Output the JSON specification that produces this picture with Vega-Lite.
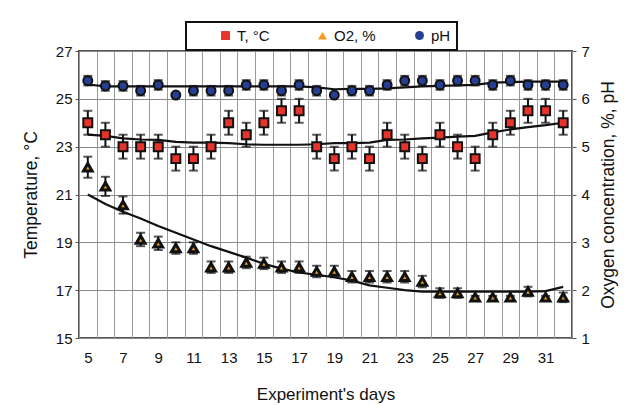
{
  "$schema": "https://vega.github.io/schema/vega-lite/v6.json",
  "width": 493,
  "height": 287,
  "autosize": {"type": "none"},
  "padding": {"left": 79, "top": 51, "right": 52, "bottom": 67},
  "background": "white",
  "config": {
    "font": "Liberation Sans",
    "view": {"stroke": "#555", "strokeWidth": 2},
    "axis": {"labelFont": "Liberation Sans", "titleFont": "Liberation Sans", "labelFontSize": 15, "titleFontSize": 17.5, "labelColor": "#111", "titleColor": "#111", "titleFontWeight": "normal", "domain": false, "tickColor": "#555"},
    "legend": {"strokeWidth": 2}
  },
  "data": {"values": [
    {"day":5,"series":"T, °C","value":24,"err":0.5,"fit":23.5},
    {"day":6,"series":"T, °C","value":23.5,"err":0.5,"fit":23.45},
    {"day":7,"series":"T, °C","value":23,"err":0.5,"fit":23.35},
    {"day":8,"series":"T, °C","value":23,"err":0.5,"fit":23.3},
    {"day":9,"series":"T, °C","value":23,"err":0.5,"fit":23.28},
    {"day":10,"series":"T, °C","value":22.5,"err":0.5,"fit":23.2},
    {"day":11,"series":"T, °C","value":22.5,"err":0.5,"fit":23.17},
    {"day":12,"series":"T, °C","value":23,"err":0.5,"fit":23.17},
    {"day":13,"series":"T, °C","value":24,"err":0.5,"fit":23.15},
    {"day":14,"series":"T, °C","value":23.5,"err":0.5,"fit":23.1},
    {"day":15,"series":"T, °C","value":24,"err":0.5,"fit":23.08},
    {"day":16,"series":"T, °C","value":24.5,"err":0.5,"fit":23.08},
    {"day":17,"series":"T, °C","value":24.5,"err":0.5,"fit":23.08},
    {"day":18,"series":"T, °C","value":23,"err":0.5,"fit":23.1},
    {"day":19,"series":"T, °C","value":22.5,"err":0.5,"fit":23.15},
    {"day":20,"series":"T, °C","value":23,"err":0.5,"fit":23.15},
    {"day":21,"series":"T, °C","value":22.5,"err":0.5,"fit":23.17},
    {"day":22,"series":"T, °C","value":23.5,"err":0.5,"fit":23.28},
    {"day":23,"series":"T, °C","value":23,"err":0.5,"fit":23.3},
    {"day":24,"series":"T, °C","value":22.5,"err":0.5,"fit":23.35},
    {"day":25,"series":"T, °C","value":23.5,"err":0.5,"fit":23.38},
    {"day":26,"series":"T, °C","value":23,"err":0.5,"fit":23.42},
    {"day":27,"series":"T, °C","value":22.5,"err":0.5,"fit":23.45},
    {"day":28,"series":"T, °C","value":23.5,"err":0.5,"fit":23.6},
    {"day":29,"series":"T, °C","value":24,"err":0.5,"fit":23.72},
    {"day":30,"series":"T, °C","value":24.5,"err":0.5,"fit":23.82},
    {"day":31,"series":"T, °C","value":24.5,"err":0.5,"fit":23.9},
    {"day":32,"series":"T, °C","value":24,"err":0.5,"fit":24.0},
    {"day":5,"series":"O2, %","value":4.57,"err":0.22,"fit":4.0},
    {"day":6,"series":"O2, %","value":4.17,"err":0.2,"fit":3.8},
    {"day":7,"series":"O2, %","value":3.78,"err":0.18,"fit":3.64},
    {"day":8,"series":"O2, %","value":3.06,"err":0.14,"fit":3.5},
    {"day":9,"series":"O2, %","value":2.98,"err":0.14,"fit":3.34},
    {"day":10,"series":"O2, %","value":2.88,"err":0.12,"fit":3.2},
    {"day":11,"series":"O2, %","value":2.88,"err":0.12,"fit":3.06},
    {"day":12,"series":"O2, %","value":2.48,"err":0.12,"fit":2.92},
    {"day":13,"series":"O2, %","value":2.48,"err":0.12,"fit":2.8},
    {"day":14,"series":"O2, %","value":2.58,"err":0.12,"fit":2.68},
    {"day":15,"series":"O2, %","value":2.56,"err":0.12,"fit":2.55},
    {"day":16,"series":"O2, %","value":2.48,"err":0.12,"fit":2.45},
    {"day":17,"series":"O2, %","value":2.48,"err":0.12,"fit":2.37},
    {"day":18,"series":"O2, %","value":2.39,"err":0.12,"fit":2.32},
    {"day":19,"series":"O2, %","value":2.39,"err":0.12,"fit":2.27},
    {"day":20,"series":"O2, %","value":2.28,"err":0.12,"fit":2.2},
    {"day":21,"series":"O2, %","value":2.28,"err":0.12,"fit":2.1},
    {"day":22,"series":"O2, %","value":2.28,"err":0.12,"fit":2.05},
    {"day":23,"series":"O2, %","value":2.28,"err":0.12,"fit":2.0},
    {"day":24,"series":"O2, %","value":2.18,"err":0.12,"fit":1.97},
    {"day":25,"series":"O2, %","value":1.94,"err":0.1,"fit":1.97},
    {"day":26,"series":"O2, %","value":1.94,"err":0.1,"fit":1.97},
    {"day":27,"series":"O2, %","value":1.85,"err":0.03,"fit":1.97},
    {"day":28,"series":"O2, %","value":1.85,"err":0.03,"fit":1.97},
    {"day":29,"series":"O2, %","value":1.85,"err":0.03,"fit":1.97},
    {"day":30,"series":"O2, %","value":1.97,"err":0.1,"fit":1.97},
    {"day":31,"series":"O2, %","value":1.85,"err":0.03,"fit":1.98},
    {"day":32,"series":"O2, %","value":1.85,"err":0.1,"fit":2.07},
    {"day":5,"series":"pH","value":6.38,"err":0.1,"fit":6.3},
    {"day":6,"series":"pH","value":6.27,"err":0.1,"fit":6.26},
    {"day":7,"series":"pH","value":6.27,"err":0.1,"fit":6.26},
    {"day":8,"series":"pH","value":6.17,"err":0.1,"fit":6.26},
    {"day":9,"series":"pH","value":6.29,"err":0.1,"fit":6.26},
    {"day":10,"series":"pH","value":6.08,"err":0.03,"fit":6.26},
    {"day":11,"series":"pH","value":6.17,"err":0.1,"fit":6.26},
    {"day":12,"series":"pH","value":6.17,"err":0.1,"fit":6.26},
    {"day":13,"series":"pH","value":6.17,"err":0.1,"fit":6.26},
    {"day":14,"series":"pH","value":6.29,"err":0.1,"fit":6.26},
    {"day":15,"series":"pH","value":6.29,"err":0.1,"fit":6.26},
    {"day":16,"series":"pH","value":6.17,"err":0.1,"fit":6.26},
    {"day":17,"series":"pH","value":6.29,"err":0.1,"fit":6.26},
    {"day":18,"series":"pH","value":6.17,"err":0.1,"fit":6.24},
    {"day":19,"series":"pH","value":6.08,"err":0.03,"fit":6.2},
    {"day":20,"series":"pH","value":6.17,"err":0.1,"fit":6.21},
    {"day":21,"series":"pH","value":6.17,"err":0.1,"fit":6.21},
    {"day":22,"series":"pH","value":6.29,"err":0.1,"fit":6.22},
    {"day":23,"series":"pH","value":6.38,"err":0.1,"fit":6.24},
    {"day":24,"series":"pH","value":6.38,"err":0.1,"fit":6.26},
    {"day":25,"series":"pH","value":6.29,"err":0.1,"fit":6.27},
    {"day":26,"series":"pH","value":6.38,"err":0.1,"fit":6.28},
    {"day":27,"series":"pH","value":6.38,"err":0.1,"fit":6.29},
    {"day":28,"series":"pH","value":6.29,"err":0.1,"fit":6.34},
    {"day":29,"series":"pH","value":6.38,"err":0.1,"fit":6.35},
    {"day":30,"series":"pH","value":6.29,"err":0.1,"fit":6.36},
    {"day":31,"series":"pH","value":6.29,"err":0.1,"fit":6.36},
    {"day":32,"series":"pH","value":6.29,"err":0.1,"fit":6.36}
  ]},
  "encoding": {
    "x": {"field": "day", "type": "quantitative", "scale": {"domain": [4.5, 32.5]},
      "axis": {
        "values": [4.5,5,5.5,6,6.5,7,7.5,8,8.5,9,9.5,10,10.5,11,11.5,12,12.5,13,13.5,14,14.5,15,15.5,16,16.5,17,17.5,18,18.5,19,19.5,20,20.5,21,21.5,22,22.5,23,23.5,24,24.5,25,25.5,26,26.5,27,27.5,28,28.5,29,29.5,30,30.5,31,31.5,32,32.5],
        "tickSize": 0, "labelPadding": 12, "labelOverlap": false, "labelFlush": false,
        "labelExpr": "datum.value % 2 === 1 ? '' + datum.value : ''",
        "grid": true, "gridColor": "#999",
        "gridOpacity": {"condition": {"test": "datum.value % 1 !== 0", "value": 1}, "value": 0},
        "title": "Experiment's days", "titlePadding": 21, "titleFontSize": 17
      }
    }
  },
  "layer": [
    {
      "transform": [{"filter": "datum.series === 'T, °C'"}],
      "layer": [
        {
          "mark": {"type": "errorbar", "ticks": {"size": 9, "thickness": 2}, "thickness": 2, "color": "#111"},
          "encoding": {
            "y": {"field": "value", "type": "quantitative", "scale": {"domain": [15, 27]}, "title": "Temperature, °C"},
            "yError": {"field": "err"}
          }
        },
        {
          "mark": {"type": "line", "color": "#111", "strokeWidth": 2.2},
          "encoding": {
            "y": {"field": "fit", "type": "quantitative", "scale": {"domain": [15, 27]}, "title": "Temperature, °C"}
          }
        },
        {
          "mark": {"type": "point", "filled": true, "stroke": "#111", "strokeWidth": 2, "size": 80, "opacity": 1},
          "encoding": {
            "y": {"field": "value", "type": "quantitative", "scale": {"domain": [15, 27]},
              "axis": {"values": [15,17,19,21,23,25,27], "tickSize": 4, "labelPadding": 3, "grid": true, "gridColor": "#888", "title": "Temperature, °C", "titlePadding": 15}
            },
            "fill": {"field": "series", "type": "nominal",
              "scale": {"domain": ["T, °C", "O2, %", "pH"], "range": ["#e8332a", "#f59a23", "#253f94"]},
              "legend": {"orient": "none", "legendX": 107, "legendY": -29, "direction": "horizontal", "columns": 3, "gridAlign": "all", "strokeColor": "#111", "padding": 6, "symbolOffset": 26, "columnPadding": 10, "labelFontSize": 15, "labelFont": "Liberation Sans", "labelColor": "#111", "symbolStrokeColor": "#111", "symbolStrokeWidth": 2, "symbolSize": 80, "title": null, "fillColor": "white"}
            },
            "shape": {"field": "series", "type": "nominal",
              "scale": {"domain": ["T, °C", "O2, %", "pH"], "range": ["square", "triangle-up", "circle"]},
              "legend": {"orient": "none", "legendX": 107, "legendY": -29, "direction": "horizontal", "columns": 3, "gridAlign": "all", "strokeColor": "#111", "padding": 6, "symbolOffset": 26, "columnPadding": 10, "labelFontSize": 15, "labelFont": "Liberation Sans", "labelColor": "#111", "symbolStrokeColor": "#111", "symbolStrokeWidth": 2, "symbolSize": 80, "title": null, "fillColor": "white"}
            }
          }
        }
      ]
    },
    {
      "transform": [{"filter": "datum.series !== 'T, °C'"}],
      "layer": [
        {
          "mark": {"type": "errorbar", "ticks": {"size": 9, "thickness": 2}, "thickness": 2, "color": "#111"},
          "encoding": {
            "y": {"field": "value", "type": "quantitative", "scale": {"domain": [1, 7]}, "title": "Oxygen concentration, %, pH"},
            "yError": {"field": "err"}
          }
        },
        {
          "mark": {"type": "line", "color": "#111", "strokeWidth": 2.2},
          "encoding": {
            "y": {"field": "fit", "type": "quantitative", "scale": {"domain": [1, 7]}, "title": "Oxygen concentration, %, pH"},
            "detail": {"field": "series"}
          }
        },
        {
          "transform": [{"filter": "datum.series === 'O2, %'"}],
          "mark": {"type": "point", "filled": true, "stroke": "#111", "strokeWidth": 3, "size": 75, "opacity": 1},
          "encoding": {
            "y": {"field": "value", "type": "quantitative", "scale": {"domain": [1, 7]}, "title": "Oxygen concentration, %, pH"},
            "fill": {"field": "series", "type": "nominal",
              "scale": {"domain": ["T, °C", "O2, %", "pH"], "range": ["#e8332a", "#f59a23", "#253f94"]}, "legend": null},
            "shape": {"field": "series", "type": "nominal",
              "scale": {"domain": ["T, °C", "O2, %", "pH"], "range": ["square", "triangle-up", "circle"]}, "legend": null}
          }
        },
        {
          "transform": [{"filter": "datum.series === 'pH'"}],
          "mark": {"type": "point", "filled": true, "stroke": "#111", "strokeWidth": 2, "size": 80, "opacity": 1},
          "encoding": {
            "y": {"field": "value", "type": "quantitative", "scale": {"domain": [1, 7]},
              "axis": {"orient": "right", "values": [1,2,3,4,5,6,7], "tickSize": 4, "labelPadding": 5, "grid": false, "title": "Oxygen concentration, %, pH", "titleAngle": 270, "titleBaseline": "top", "titlePadding": 10}
            },
            "fill": {"field": "series", "type": "nominal",
              "scale": {"domain": ["T, °C", "O2, %", "pH"], "range": ["#e8332a", "#f59a23", "#253f94"]}, "legend": null},
            "shape": {"field": "series", "type": "nominal",
              "scale": {"domain": ["T, °C", "O2, %", "pH"], "range": ["square", "triangle-up", "circle"]}, "legend": null}
          }
        }
      ]
    }
  ],
  "resolve": {"scale": {"y": "independent"}}
}
